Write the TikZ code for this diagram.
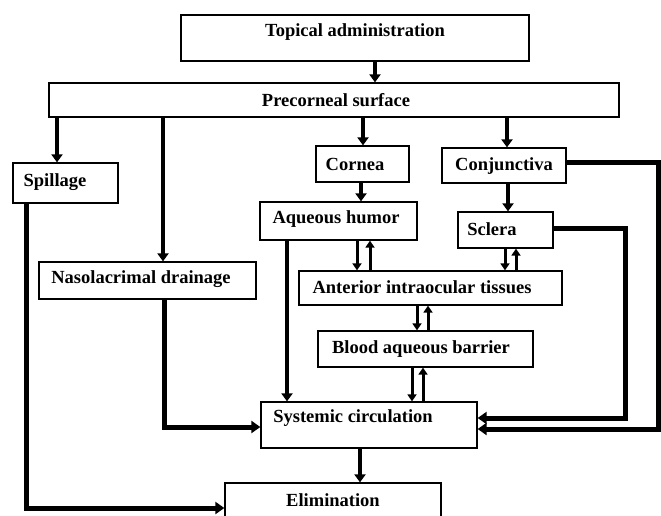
\documentclass[tikz,border=0pt]{standalone}
\usepackage{fontspec}
\setmainfont{Liberation Serif}
\usetikzlibrary{arrows.meta,calc}
\begin{document}
\begin{tikzpicture}[x=1pt,y=-1pt,
  box/.style={draw=black, line width=1.3pt, fill=white, inner sep=0pt},
  lbl/.style={font=\bfseries\fontsize{18.5}{20}\selectfont, inner sep=0pt},
  arr/.style={line width=4pt, -{Triangle[width=11pt,length=8pt]}},
  thinarr/.style={line width=3pt, -{Triangle[width=9pt,length=7pt]}},
  link/.style={line width=5pt, -{Triangle[width=12pt,length=9pt]}}]
\useasboundingbox (0,0) rectangle (661,515);
% boxes
\node[box, minimum width=348pt, minimum height=46pt] (top) at (355,38) {};
\node[box, minimum width=570pt, minimum height=34pt] (pre) at (334,100) {};
\node[box, minimum width=105pt, minimum height=40pt] (spill) at (65.5,183) {};
\node[box, minimum width=93pt, minimum height=36pt] (corn) at (362.5,164) {};
\node[box, minimum width=124pt, minimum height=35pt] (conj) at (504,165.5) {};
\node[box, minimum width=157pt, minimum height=38pt] (aq) at (338.5,221) {};
\node[box, minimum width=95pt, minimum height=36pt] (scl) at (505.5,230) {};
\node[box, minimum width=217pt, minimum height=37pt] (naso) at (147.5,280.5) {};
\node[box, minimum width=263pt, minimum height=34pt] (ant) at (430.5,288) {};
\node[box, minimum width=215pt, minimum height=36pt] (blood) at (425.5,349) {};
\node[box, minimum width=216pt, minimum height=46pt] (sys) at (369,425) {};
\node[box, minimum width=216pt, minimum height=52pt] (elim) at (333,509) {};
% labels
\node[lbl] (toptxt) at (355,32) {Topical administration};
\node[lbl] (pretxt) at (336,100) {Precorneal surface};
\node[lbl] (spilltxt) at (55,182) {Spillage};
\node[lbl] (corntxt) at (355,164) {Cornea};
\node[lbl] (conjtxt) at (504,166) {Conjunctiva};
\node[lbl] (aqtxt) at (336,219) {Aqueous humor};
\node[lbl] (scltxt) at (492,229) {Sclera};
\node[lbl] (nasotxt) at (141,279) {Nasolacrimal drainage};
\node[lbl] (anttxt) at (422,287) {Anterior intraocular tissues};
\node[lbl] (bloodtxt) at (421,349) {Blood aqueous barrier};
\node[lbl] (systxt) at (353,418) {Systemic circulation};
\node[lbl] (elimtxt) at (333,500) {Elimination};
% column / row helpers
\coordinate (c26) at (26,0);
\coordinate (c57) at (57,0);
\coordinate (c163) at (163,0);
\coordinate (c164) at (164,0);
\coordinate (c287) at (287,0);
\coordinate (c357) at (357,0);
\coordinate (c360) at (360,0);
\coordinate (c361) at (361,0);
\coordinate (c363) at (363,0);
\coordinate (c370) at (370,0);
\coordinate (c375) at (375,0);
\coordinate (c412) at (412,0);
\coordinate (c417) at (417,0);
\coordinate (c423) at (423,0);
\coordinate (c428) at (428,0);
\coordinate (c505) at (505,0);
\coordinate (c507) at (507,0);
\coordinate (c508) at (508,0);
\coordinate (c516) at (516,0);
\coordinate (c625) at (625,0);
\coordinate (c658) at (658,0);
\coordinate (r162) at (0,162);
\coordinate (r228) at (0,228);
\coordinate (r418) at (0,418);
\coordinate (r427) at (0,427);
\coordinate (r428) at (0,429);
\coordinate (r508) at (0,508);
% connectors
\draw[arr] (top.south -| c375) -- (pre.north -| c375);
\draw[arr] (pre.south -| c57) -- (spill.north -| c57);
\draw[arr] (pre.south -| c163) -- (naso.north -| c163);
\draw[arr] (pre.south -| c363) -- (corn.north -| c363);
\draw[arr] (pre.south -| c507) -- (conj.north -| c507);
\draw[arr] (corn.south -| c361) -- (aq.north -| c361);
\draw[arr] (conj.south -| c508) -- (scl.north -| c508);
\draw[thinarr] (aq.south -| c357) -- (ant.north -| c357);
\draw[thinarr] (ant.north -| c370) -- (aq.south -| c370);
\draw[thinarr] (scl.south -| c505) -- (ant.north -| c505);
\draw[thinarr] (ant.north -| c516) -- (scl.south -| c516);
\draw[thinarr] (ant.south -| c417) -- (blood.north -| c417);
\draw[thinarr] (blood.north -| c428) -- (ant.south -| c428);
\draw[thinarr] (blood.south -| c412) -- (sys.north -| c412);
\draw[thinarr] (sys.north -| c423) -- (blood.south -| c423);
\draw[arr, line width=3.5pt] (aq.south -| c287) -- (sys.north -| c287);
\draw[link] (naso.south -| c164) |- (sys.west |- r427);
\draw[link] (spill.south -| c26) |- (elim.west |- r508);
\draw[link] (scl.east |- r228) -- (c625 |- r228) -- (c625 |- r418) -- (sys.east |- r418);
\draw[link] (conj.east |- r162) -- (c658 |- r162) -- (c658 |- r428) -- (sys.east |- r428);
\draw[arr] (sys.south -| c360) -- (elim.north -| c360);
\end{tikzpicture}
\end{document}
